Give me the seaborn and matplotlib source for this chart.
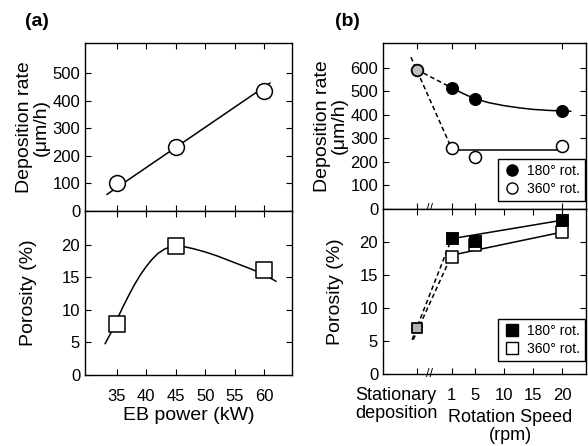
import matplotlib
matplotlib.use('Agg')
import matplotlib.pyplot as plt
from matplotlib.lines import Line2D
import seaborn as sns

sns.set_style('ticks')
plt.rcParams['font.family'] = ['Liberation Sans', 'DejaVu Sans']
plt.rcParams['text.color'] = 'black'
plt.rcParams['axes.labelcolor'] = 'black'
plt.rcParams['xtick.color'] = 'black'
plt.rcParams['ytick.color'] = 'black'

# (a) EB power series
eb_power = [35, 45, 60]
dep_rate_a = [100, 232, 435]
porosity_a = [7.8, 19.8, 16.2]
# trend lines
dep_trend_x = [33.3, 61.0]
dep_trend_y = [60, 465]
por_trend_x = [33, 34, 35, 36, 37, 38, 39, 40, 41, 42, 43, 44, 45, 46, 48, 50, 52, 54, 56, 58, 60, 62]
por_trend_y = [4.8, 6.5, 8.5, 10.4, 12.2, 13.9, 15.4, 16.7, 17.8, 18.7, 19.3, 19.7, 19.85, 19.8,
               19.4, 18.9, 18.3, 17.6, 16.9, 16.2, 15.4, 14.4]

# (b) rotation speed series (stationary deposition shown at x = -5)
stat_x = -5
rpm = [1, 5, 20]
dep_180 = [515, 468, 416]
dep_360 = [257, 219, 266]
dep_stat = 592
por_180 = [20.6, 20.2, 23.3]
por_360 = [17.7, 19.5, 21.5]
por_stat = 7.0
# trend lines
dep180_trend_x = [1, 3, 5, 7.5, 10, 12.5, 15, 17.5, 20, 21.5]
dep180_trend_y = [515, 490, 468, 451, 439, 430, 423, 419, 416, 415]
dep360_trend_x = [1, 20.7]
dep360_trend_y = [250, 250]
dep180_dash = ([-5, 1], [592, 515])
dep360_dash = ([-6, 1], [645, 257])
por180_trend = ([1, 20], [20.5, 23.3])
por360_trend = ([1, 20], [18.0, 21.5])
por180_dash = ([-5.8, 1], [5.2, 20.5])
por360_dash = ([-5.6, 1], [5.2, 18.0])

fig = plt.figure(figsize=(5.88, 4.46), dpi=100)
W, H = 588, 446
def box(x0, y0, x1, y1):
    return [x0 / W, 1 - y1 / H, (x1 - x0) / W, (y1 - y0) / H]

ax1 = fig.add_axes(box(85, 43, 292, 211))
ax2 = fig.add_axes(box(85, 211, 292, 375))
ax3 = fig.add_axes(box(383, 43, 586, 209))
ax4 = fig.add_axes(box(383, 209, 586, 374))

for ax in [ax1, ax2, ax3, ax4]:
    ax.tick_params(direction='in', top=True, right=True, labelsize=12, length=4, width=0.8)
    ax.tick_params(axis='x', pad=10)
    for s in ax.spines.values():
        s.set_linewidth(1.0)
        s.set_color('black')

lw = 1.1
dash = (0, (3, 2))

# ---- (a) top
sns.lineplot(x=dep_trend_x, y=dep_trend_y, ax=ax1, color='k', lw=lw, estimator=None, sort=False)
sns.scatterplot(x=eb_power, y=dep_rate_a, ax=ax1, marker='o', s=130, color='white',
                edgecolor='k', linewidth=1.1, zorder=3)
ax1.set_xlim(29.6, 64.7)
ax1.set_ylim(0, 610)
ax1.set_yticks([0, 100, 200, 300, 400, 500])
ax1.set_xticks([35, 40, 45, 50, 55, 60])
ax1.tick_params(labelbottom=False)
ax1.set_ylabel('Deposition rate\n(μm/h)', fontsize=14, linespacing=0.95, labelpad=2)

# ---- (a) bottom
sns.lineplot(x=por_trend_x, y=por_trend_y, ax=ax2, color='k', lw=lw, estimator=None, sort=False)
sns.scatterplot(x=eb_power, y=porosity_a, ax=ax2, marker='s', s=120, color='white',
                edgecolor='k', linewidth=1.1, zorder=3)
ax2.set_xlim(29.6, 64.7)
ax2.set_ylim(0, 25.2)
ax2.set_yticks([0, 5, 10, 15, 20])
ax2.set_xticks([35, 40, 45, 50, 55, 60])
ax2.set_ylabel('Porosity (%)', fontsize=14, labelpad=18)
ax2.set_xlabel('EB power (kW)', fontsize=14, labelpad=2)

# ---- (b) top
sns.lineplot(x=dep180_trend_x, y=dep180_trend_y, ax=ax3, color='k', lw=lw, estimator=None, sort=False)
sns.lineplot(x=dep360_trend_x, y=dep360_trend_y, ax=ax3, color='k', lw=lw, estimator=None, sort=False)
ax3.plot(*dep180_dash, color='k', lw=lw, ls=dash)
ax3.plot(*dep360_dash, color='k', lw=lw, ls=dash)
sns.scatterplot(x=rpm, y=dep_180, ax=ax3, marker='o', s=75, color='k', edgecolor='k', zorder=3)
sns.scatterplot(x=rpm, y=dep_360, ax=ax3, marker='o', s=75, color='white', edgecolor='k',
                linewidth=1.1, zorder=3)
sns.scatterplot(x=[stat_x], y=[dep_stat], ax=ax3, marker='o', s=70, color='0.75', edgecolor='k',
                linewidth=1.3, zorder=3)
ax3.set_xlim(-10.8, 24.1)
ax3.set_ylim(0, 705)
ax3.set_yticks([0, 100, 200, 300, 400, 500, 600])
ax3.set_xticks([stat_x, 1, 5, 20])
ax3.tick_params(labelbottom=False)
ax3.set_ylabel('Deposition rate\n(μm/h)', fontsize=14, linespacing=0.95, labelpad=2)
h1 = [Line2D([], [], ls='', marker='o', ms=8, mfc='k', mec='k'),
      Line2D([], [], ls='', marker='o', ms=8, mfc='white', mec='k')]
leg_kw = dict(loc='lower right', fontsize=10, frameon=True, fancybox=False, edgecolor='k',
              framealpha=1, handletextpad=0.5, borderpad=0.35, labelspacing=0.3,
              handlelength=1.2, borderaxespad=0.1)
ax3.legend(h1, ['180° rot.', '360° rot.'], bbox_to_anchor=(1.0, 0.04),
           **leg_kw).get_frame().set_linewidth(1.0)
ax3.text(-2.8, 0, '//', fontsize=9, ha='center', va='center')

# ---- (b) bottom
ax4.plot(*por180_trend, color='k', lw=lw)
ax4.plot(*por360_trend, color='k', lw=lw)
sns.lineplot(x=por180_dash[0], y=por180_dash[1], ax=ax4, color='k', lw=lw, ls=dash,
             estimator=None, sort=False)
sns.lineplot(x=por360_dash[0], y=por360_dash[1], ax=ax4, color='k', lw=lw, ls=dash,
             estimator=None, sort=False)
sns.scatterplot(x=rpm, y=por_360, ax=ax4, marker='s', s=65, color='white', edgecolor='k',
                linewidth=1.1, zorder=3)
sns.scatterplot(x=rpm, y=por_180, ax=ax4, marker='s', s=65, color='k', edgecolor='k', zorder=4)
sns.scatterplot(x=[stat_x], y=[por_stat], ax=ax4, marker='s', s=60, color='0.7', edgecolor='k',
                linewidth=1.3, zorder=3)
ax4.set_xlim(-10.8, 24.1)
ax4.set_ylim(0, 25.0)
ax4.set_yticks([0, 5, 10, 15, 20])
ax4.set_xticks([stat_x, 1, 5, 10, 15, 20])
ax4.set_xticklabels(['', '1', '5', '10', '15', '20'])
ax4.set_ylabel('Porosity (%)', fontsize=14, labelpad=11)
h2 = [Line2D([], [], ls='', marker='s', ms=8, mfc='k', mec='k'),
      Line2D([], [], ls='', marker='s', ms=8, mfc='white', mec='k')]
ax4.legend(h2, ['180° rot.', '360° rot.'], bbox_to_anchor=(1.0, 0.07),
           **leg_kw).get_frame().set_linewidth(1.0)
ax4.text(-2.8, 0, '//', fontsize=9, ha='center', va='center')
fig.text(396 / W, 1 - 387 / H, 'Stationary\ndeposition', fontsize=13, ha='center', va='top',
         linespacing=1.1)
fig.text(510 / W, 1 - 409 / H, 'Rotation Speed\n(rpm)', fontsize=13, ha='center', va='top',
         linespacing=1.1)

fig.text(37 / W, 1 - 22 / H, '(a)', fontsize=14, fontweight='bold', ha='center', va='center')
fig.text(347 / W, 1 - 21 / H, '(b)', fontsize=14, fontweight='bold', ha='center', va='center')

fig.savefig('out.png', dpi=100)
